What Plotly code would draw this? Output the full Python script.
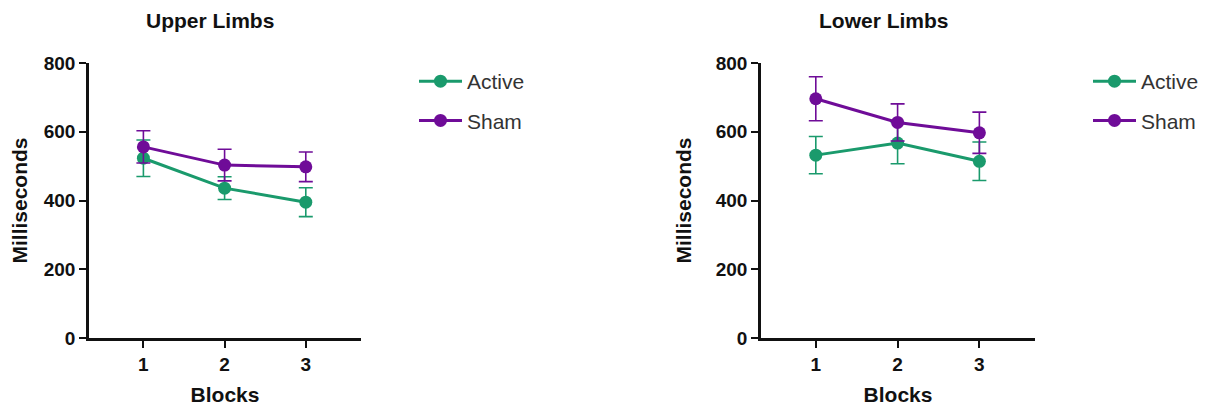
import plotly.graph_objects as go

blocks = [1, 2, 3]
upper_active = [523, 436, 395]
upper_active_err = [53, 33, 42]
upper_sham = [556, 503, 498]
upper_sham_err = [47, 46, 43]
lower_active = [532, 567, 514]
lower_active_err = [54, 60, 56]
lower_sham = [696, 627, 597]
lower_sham_err = [64, 54, 60]
y_ticks = [0, 200, 400, 600, 800]

GREEN = "#1a9a6c"
PURPLE = "#6f0c98"
FONT = "Liberation Sans, Arial, sans-serif"

# page has an 8px body margin; figure sized to fit inside the window
OFF = 8
W, H = 1207 - 2 * OFF, 414 - 2 * OFF


def px(x):
    return (x - OFF) / W


def py(y):
    return 1 - (y - OFF) / H


fig = go.Figure()


def add(x, y, err, name, color, xa, ya, legend):
    fig.add_trace(go.Scatter(
        x=x, y=y, name=name, mode="lines+markers",
        line=dict(color=color, width=3),
        marker=dict(color=color, size=13),
        error_y=dict(type="data", array=err, visible=True, color=color,
                     thickness=1.6, width=7),
        xaxis=xa, yaxis=ya, legend=legend, legendgroup=legend + name,
    ))


add(blocks, upper_active, upper_active_err, "Active", GREEN, "x", "y", "legend")
add(blocks, upper_sham, upper_sham_err, "Sham", PURPLE, "x", "y", "legend")
add(blocks, lower_active, lower_active_err, "Active", GREEN, "x2", "y2", "legend2")
add(blocks, lower_sham, lower_sham_err, "Sham", PURPLE, "x2", "y2", "legend2")

ydom = [py(338), py(63)]
xaxis_common = dict(
    range=[0.33, 3.68], tickvals=blocks, ticktext=["<b>1</b>", "<b>2</b>", "<b>3</b>"],
    showline=True, linecolor="#111", automargin=False,
    linewidth=2.5, ticks="outside", ticklen=7, tickwidth=2, tickcolor="#111",
    showgrid=False, zeroline=False,
    tickfont=dict(family=FONT, size=19, color="#111"),
    title=dict(text="<b>Blocks</b>", font=dict(family=FONT, size=21, color="#111"), standoff=21),
)
yaxis_common = dict(
    range=[0, 800], tickvals=y_ticks, ticktext=["<b>%d</b>" % v for v in y_ticks],
    showline=True, linecolor="#111", automargin=False,
    linewidth=2.5, ticks="outside", ticklen=7, tickwidth=2, tickcolor="#111",
    showgrid=False, zeroline=False,
    tickfont=dict(family=FONT, size=19, color="#111"),
    title=dict(text="<b>Milliseconds</b>", font=dict(family=FONT, size=21, color="#111"), standoff=19),
)

legend_common = dict(
    font=dict(family=FONT, size=21, color="#333"), traceorder="grouped",
    tracegroupgap=9, bgcolor="rgba(0,0,0,0)", itemwidth=43,
    xanchor="left", yanchor="top",
)

fig.update_layout(
    width=W, height=H, paper_bgcolor="white", plot_bgcolor="white",
    margin=dict(l=0, r=0, t=0, b=0, autoexpand=False),
    xaxis=dict(domain=[px(89), px(361)], anchor="y", **xaxis_common),
    yaxis=dict(domain=ydom, anchor="x", **yaxis_common),
    xaxis2=dict(domain=[px(761), px(1035)], anchor="y2", **xaxis_common),
    yaxis2=dict(domain=ydom, anchor="x2", **yaxis_common),
    legend=dict(x=px(414), y=py(61), **legend_common),
    legend2=dict(x=px(1088), y=py(61), **legend_common),
    showlegend=True,
    annotations=[
        dict(text="<b>Upper Limbs</b>", x=px(210), y=py(20), xref="paper", yref="paper",
             showarrow=False, font=dict(family=FONT, size=21, color="#111"), xanchor="center", yanchor="middle"),
        dict(text="<b>Lower Limbs</b>", x=px(884), y=py(20), xref="paper", yref="paper",
             showarrow=False, font=dict(family=FONT, size=21, color="#111"), xanchor="center", yanchor="middle"),
    ],
)

fig.write_html("out.html")
